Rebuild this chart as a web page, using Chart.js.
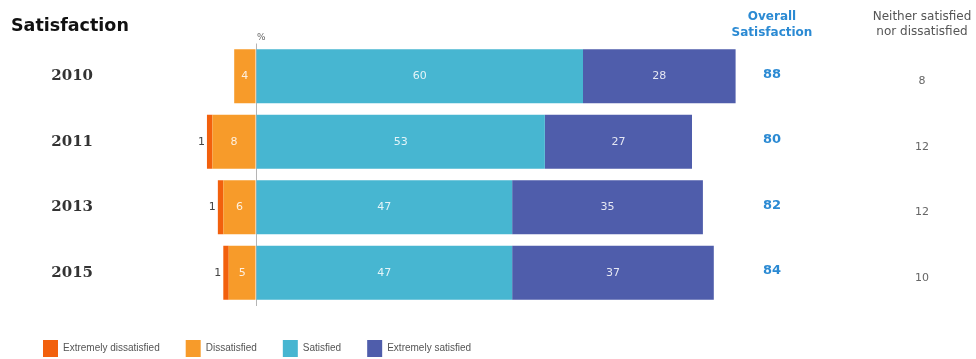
<!DOCTYPE html>
<html>
<head>
<meta charset="utf-8">
<script src="https://cdn.jsdelivr.net/npm/chart.js@4"></script>
<style>
  html, body { margin: 0; padding: 0; background: #fff; }
  #wrap { width: 976px; height: 359px; }
</style>
</head>
<body>
<div id="wrap"><canvas id="myChart" width="976" height="359"></canvas></div>
<script>
'use strict';

// values (percent)
let years = ['2010', '2011', '2013', '2015'];
let extremelyDissatisfied = [0, 1, 1, 1];
let dissatisfied = [4, 8, 6, 5];
let satisfied = [60, 53, 47, 47];
let extremelySatisfied = [28, 27, 35, 37];
let overallSatisfaction = [88, 80, 82, 84];
let neitherSatisfied = [8, 12, 12, 10];

let legendOrder = ['Extremely dissatisfied', 'Dissatisfied', 'Satisfied', 'Extremely satisfied'];

let colors = {
    extDis: '#f2600d',
    dis: '#f79b2a',
    sat: '#47b6d1',
    extSat: '#4f5dab'
};

// negative side stacks away from zero in dataset order, so dissatisfied goes first
let datasets = [
    { label: 'Dissatisfied', data: dissatisfied.map(v => -v), backgroundColor: colors.dis },
    { label: 'Extremely dissatisfied', data: extremelyDissatisfied.map(v => -v), backgroundColor: colors.extDis },
    { label: 'Satisfied', data: satisfied, backgroundColor: colors.sat },
    { label: 'Extremely satisfied', data: extremelySatisfied, backgroundColor: colors.extSat }
];
datasets.forEach(d => {
    d.borderWidth = 0;
    d.barPercentage = 0.824;
    d.categoryPercentage = 1;
});

// legend sits lower than chart.js puts it by default
let legendShift = {
    id: 'legendShift',
    afterLayout(chart) {
        chart.legend.top += 8;
        chart.legend.bottom += 8;
    }
};

let sideText = {
    id: 'sideText',
    afterDraw(chart) {
        let ctx = chart.ctx;
        let xs = chart.scales.x;
        let ys = chart.scales.y;
        let zero = xs.getPixelForValue(0);
        ctx.save();

        ctx.textBaseline = 'middle';
        ctx.textAlign = 'left';
        ctx.fillStyle = '#111';
        ctx.font = 'bold 17.5px "DejaVu Sans"';
        ctx.fillText('Satisfaction', 11, 26);

        ctx.fillStyle = '#666';
        ctx.font = '9px "DejaVu Sans"';
        ctx.fillText('%', zero + 1, 38);

        // column headers
        ctx.textAlign = 'center';
        ctx.fillStyle = '#2b8ad3';
        ctx.font = 'bold 12px "DejaVu Sans"';
        ctx.fillText('Overall', 772, 17);
        ctx.fillText('Satisfaction', 772, 33);
        ctx.fillStyle = '#555';
        ctx.font = '12px "DejaVu Sans"';
        ctx.fillText('Neither satisfied', 922, 17);
        ctx.fillText('nor dissatisfied', 922, 32);

        for (let i = 0; i < years.length; i++) {
            let y = ys.getPixelForValue(i);
            ctx.fillStyle = '#2b8ad3';
            ctx.font = 'bold 13px "DejaVu Sans"';
            ctx.fillText(String(overallSatisfaction[i]), 772, y - 2);
            ctx.fillStyle = '#666';
            ctx.font = '11px "DejaVu Sans"';
            ctx.fillText(String(neitherSatisfied[i]), 922, y + 5);
        }

        // numbers on the bars
        ctx.font = '11px "DejaVu Sans"';
        chart.data.datasets.forEach((ds, di) => {
            let meta = chart.getDatasetMeta(di);
            meta.data.forEach((bar, i) => {
                let v = ds.data[i];
                if (!v) return;
                let txt = String(Math.abs(v));
                if (ds.label === 'Extremely dissatisfied') {
                    ctx.fillStyle = '#444';
                    ctx.textAlign = 'right';
                    ctx.fillText(txt, Math.min(bar.x, bar.base) - 2, bar.y);
                } else {
                    ctx.fillStyle = 'rgba(255,255,255,0.85)';
                    ctx.textAlign = 'center';
                    ctx.fillText(txt, (bar.x + bar.base) / 2, bar.y);
                }
            });
        });
        ctx.restore();
    }
};

let ctx = document.getElementById('myChart').getContext('2d');
let chart = new Chart(ctx, {
    type: 'bar',
    data: {
        labels: years,
        datasets: datasets
    },
    options: {
        indexAxis: 'y',
        responsive: false,
        animation: false,
        layout: {
            padding: { left: 17, right: 120.5, top: 43.5, bottom: 0 }
        },
        scales: {
            x: {
                stacked: true,
                min: -20,
                max: 110,
                ticks: { display: false, stepSize: 10 },
                border: { display: false },
                grid: {
                    drawTicks: false,
                    color: c => (c.tick && c.tick.value === 0 ? '#b5b5b5' : 'rgba(0,0,0,0)'),
                    lineWidth: 1
                },
                afterFit: scale => { scale.height = 0.5; }
            },
            y: {
                stacked: true,
                border: { display: false },
                grid: { display: false, drawTicks: false },
                ticks: {
                    padding: 54,
                    color: '#333',
                    font: { family: '"DejaVu Serif"', weight: 'bold', size: 15 }
                },
                afterFit: scale => {
                    scale.width = 130;
                    scale.paddingTop = 0;
                    scale.paddingBottom = 0;
                }
            }
        },
        plugins: {
            tooltip: { enabled: false },
            legend: {
                position: 'bottom',
                align: 'start',
                labels: {
                    boxWidth: 15,
                    boxHeight: 17,
                    padding: 26,
                    color: '#555',
                    font: { family: '"Liberation Sans Narrow", "Liberation Sans"', size: 10 },
                    sort: (a, b) => legendOrder.indexOf(a.text) - legendOrder.indexOf(b.text)
                }
            }
        }
    },
    plugins: [sideText, legendShift]
});
</script>
</body>
</html>
